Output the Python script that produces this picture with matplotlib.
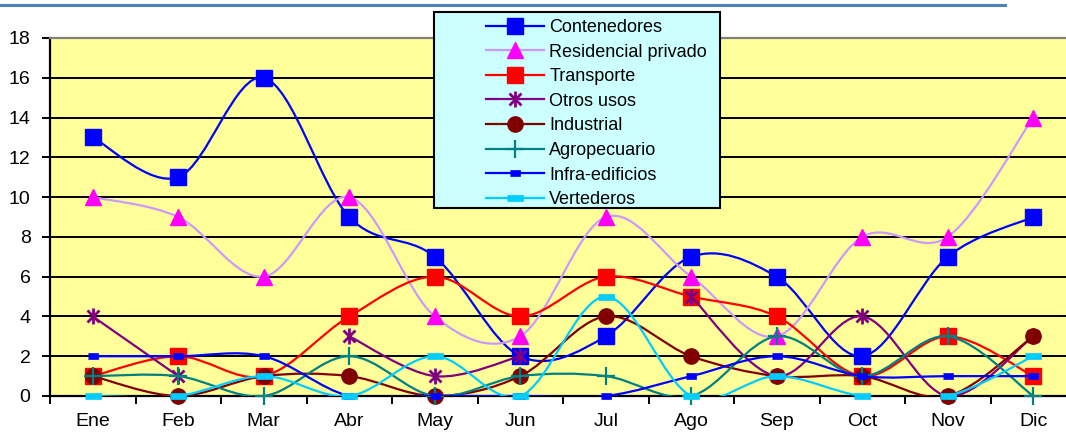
import numpy as np
import matplotlib.pyplot as plt
from matplotlib.path import Path
from matplotlib.patches import PathPatch, Rectangle
from matplotlib.lines import Line2D

plt.rcParams["font.family"] = ["Liberation Sans", "DejaVu Sans"]

# datos por mes (nan = sin dato)
meses = ["Ene", "Feb", "Mar", "Abr", "May", "Jun", "Jul", "Ago", "Sep", "Oct", "Nov", "Dic"]
contenedores = [13, 11, 16, 9, 7, 2, 3, 7, 6, 2, 7, 9]
residencial = [10, 9, 6, 10, 4, 3, 9, 6, 3, 8, 8, 14]
transporte = [1, 2, 1, 4, 6, 4, 6, 5, 4, 1, 3, 1]
otros_usos = [4, 1, np.nan, 3, 1, 2, np.nan, 5, 1, 4, 0, 3]
industrial = [1, 0, 1, 1, 0, 1, 4, 2, 1, 1, 0, 3]
agropecuario = [1, 1, 0, 2, 0, 1, 1, 0, 3, 1, 3, 0]
infra_edificios = [2, 2, 2, 0, 0, 0, 0, 1, 2, 1, 1, 1]
vertederos = [0, 0, 1, 0, 2, 0, 5, 0, 1, 0, 0, 2]

# marcadores propios
asterisco = Path([(0, -1), (0, 1), (-0.75, -0.75), (0.75, 0.75), (-0.75, 0.75), (0.75, -0.75)],
                 [Path.MOVETO, Path.LINETO] * 3)
raya_chica = [(-1, -0.55), (1, -0.55), (1, 0.55), (-1, 0.55)]
raya = [(-1, -0.4), (1, -0.4), (1, 0.4), (-1, 0.4)]

series = [
    ("Contenedores", contenedores, "#0000FF", dict(marker="s", ms=11, mfc="#0000FF", mec="#0000FF")),
    ("Residencial privado", residencial, "#CC99FF", dict(marker="^", ms=11, mfc="#FF00FF", mec="#FF00FF")),
    ("Transporte", transporte, "#FF0000", dict(marker="s", ms=12, mfc="#FF0000", mec="#FF0000")),
    ("Otros usos", otros_usos, "#800080", dict(marker=asterisco, ms=11.5, mfc="none", mec="#800080", mew=2)),
    ("Industrial", industrial, "#800000", dict(marker="o", ms=11, mfc="#800000", mec="#800000")),
    ("Agropecuario", agropecuario, "#008080", dict(marker="+", ms=13, mec="#008080", mew=1.6)),
    ("Infra-edificios", infra_edificios, "#0000FF", dict(marker=raya_chica, ms=7, mfc="#0000FF", mec="#0000FF", mew=0.5)),
    ("Vertederos", vertederos, "#00CCFF", dict(marker=raya, ms=11, mfc="#00CCFF", mec="#00CCFF", mew=0.5)),
]


def curva_suave(x, y):
    # curva tipo Excel (Bezier con tangentes Catmull-Rom), por tramos sin huecos
    x = np.asarray(x, float)
    y = np.asarray(y, float)
    ok = ~np.isnan(y)
    verts, codes = [], []
    i = 0
    n = len(y)
    while i < n:
        if not ok[i]:
            i += 1
            continue
        j = i
        while j + 1 < n and ok[j + 1]:
            j += 1
        px, py = x[i:j + 1], y[i:j + 1]
        verts.append((px[0], py[0]))
        codes.append(Path.MOVETO)
        for k in range(len(px) - 1):
            a = max(k - 1, 0)
            b = min(k + 2, len(px) - 1)
            c1 = (px[k] + (px[k + 1] - px[a]) / 6, py[k] + (py[k + 1] - py[a]) / 6)
            c2 = (px[k + 1] - (px[b] - px[k]) / 6, py[k + 1] - (py[b] - py[k]) / 6)
            verts += [c1, c2, (px[k + 1], py[k + 1])]
            codes += [Path.CURVE4] * 3
        i = j + 1
    return Path(verts, codes)


fig = plt.figure(figsize=(10.66, 4.34), dpi=100)
ax = fig.add_axes([50 / 1066, 1 - 396 / 434, 1026 / 1066, 358 / 434])
ax.set_facecolor("#FFFF99")

x = np.arange(len(meses))
handles = []
for n, (nombre, valores, color, estilo) in enumerate(series):
    z = 3 + n * 0.1
    ax.add_patch(PathPatch(curva_suave(x, valores), fill=False, edgecolor=color, lw=1.6, zorder=z))
    ax.plot(x, valores, ls="none", zorder=z + 0.05, clip_on=False, **estilo)
    handles.append(Line2D([], [], color=color, lw=1.6, label=nombre, **estilo))

ax.set_xlim(-0.5, 11.5)
ax.set_ylim(0, 18)
ax.set_yticks(range(0, 19, 2))
for v in range(2, 18, 2):
    ax.axhline(v, color="black", lw=1.4, zorder=1)

ax.set_xticks(np.arange(-0.5, 12, 1))
ax.set_xticklabels([])
ax.set_xticks(x, minor=True)
ax.set_xticklabels(meses, minor=True)
ax.tick_params(axis="x", which="major", length=6, width=1.4, direction="out")
ax.tick_params(axis="x", which="minor", length=0, pad=12, labelsize=14)
ax.tick_params(axis="y", length=6, width=1.4, direction="out", pad=8, labelsize=14)

for lado in ["left", "bottom"]:
    ax.spines[lado].set_linewidth(1.6)
    ax.spines[lado].set_color("black")
ax.spines["top"].set_color("#808080")
ax.spines["top"].set_linewidth(1.6)
ax.spines["right"].set_visible(False)

# caja de la leyenda
fig.add_artist(Rectangle((434 / 1066, 1 - 208 / 434), 286 / 1066, 196 / 434,
                         transform=fig.transFigure, facecolor="#CCFFFF",
                         edgecolor="black", lw=1.5, zorder=4))
fig.legend(handles=handles, loc="upper left", bbox_to_anchor=(486 / 1066, 1 - 19 / 434),
           frameon=False, fontsize=13, handlelength=3.2, handletextpad=0.3,
           labelspacing=0.42, borderpad=0, borderaxespad=0)

# linea azul superior
fig.add_artist(Line2D([0, 1005 / 1066], [1 - 5 / 434, 1 - 5 / 434], transform=fig.transFigure,
                      color="#4F81BD", lw=2.2))

plt.savefig("out.png", dpi=100)
